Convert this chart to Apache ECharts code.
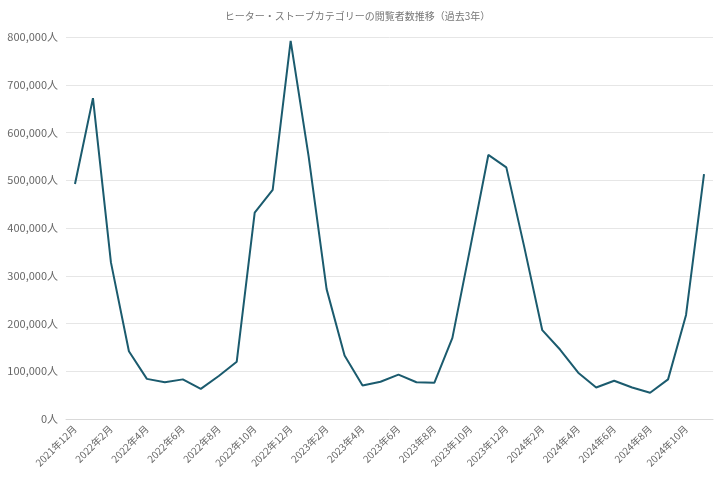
<!DOCTYPE html>
<html><head><meta charset="utf-8">
<script src="https://cdn.jsdelivr.net/npm/echarts@6/dist/echarts.min.js"></script>
<style>html,body{margin:0;padding:0;background:#fff}#c{width:715px;height:477px}</style>
</head><body><div id="c"></div>
<script>
const months = [];
for (let i = 0; i < 36; i++) {
  const y = 2021 + Math.floor((11 + i) / 12);
  const m = (11 + i) % 12 + 1;
  months.push(y + '年' + m + '月');
}
const viewers = [492000, 672000, 328000, 142000, 84000, 77000, 83000, 63000, 90000, 120000,
  432000, 480000, 792000, 550000, 272000, 133000, 70000, 78000, 93000, 77000,
  76000, 170000, 360000, 553000, 527000, 360000, 186000, 145000, 97000, 66000,
  80000, 66000, 55000, 83000, 218000, 513000];

const chart = echarts.init(document.getElementById('c'));
chart.setOption({
  title: {
    text: 'ヒーター・ストーブカテゴリーの閲覧者数推移（過去3年）',
    left: 'center', top: 6,
    textStyle: { fontSize: 10, fontWeight: 'normal', color: '#777', fontFamily: 'Noto Sans CJK JP' }
  },
  grid: { left: 66, right: 2, top: 37, bottom: 58 },
  xAxis: {
    type: 'category', data: months, boundaryGap: true,
    axisLine: { lineStyle: { color: '#d9d9d9' } },
    axisTick: { show: false },
    axisLabel: { interval: 1, rotate: 45, color: '#666', fontSize: 10, fontFamily: 'Noto Sans CJK JP' }
  },
  yAxis: {
    type: 'value', min: 0, max: 800000, interval: 100000,
    splitLine: { lineStyle: { color: '#e6e6e6' } },
    axisLabel: {
      color: '#666', fontSize: 11, fontFamily: 'Noto Sans CJK JP',
      formatter: v => v.toLocaleString('en-US') + '人'
    }
  },
  series: [{
    type: 'line', data: viewers, symbol: 'none',
    lineStyle: { color: '#1b5b6e', width: 2 }
  }]
});
</script></body></html>
